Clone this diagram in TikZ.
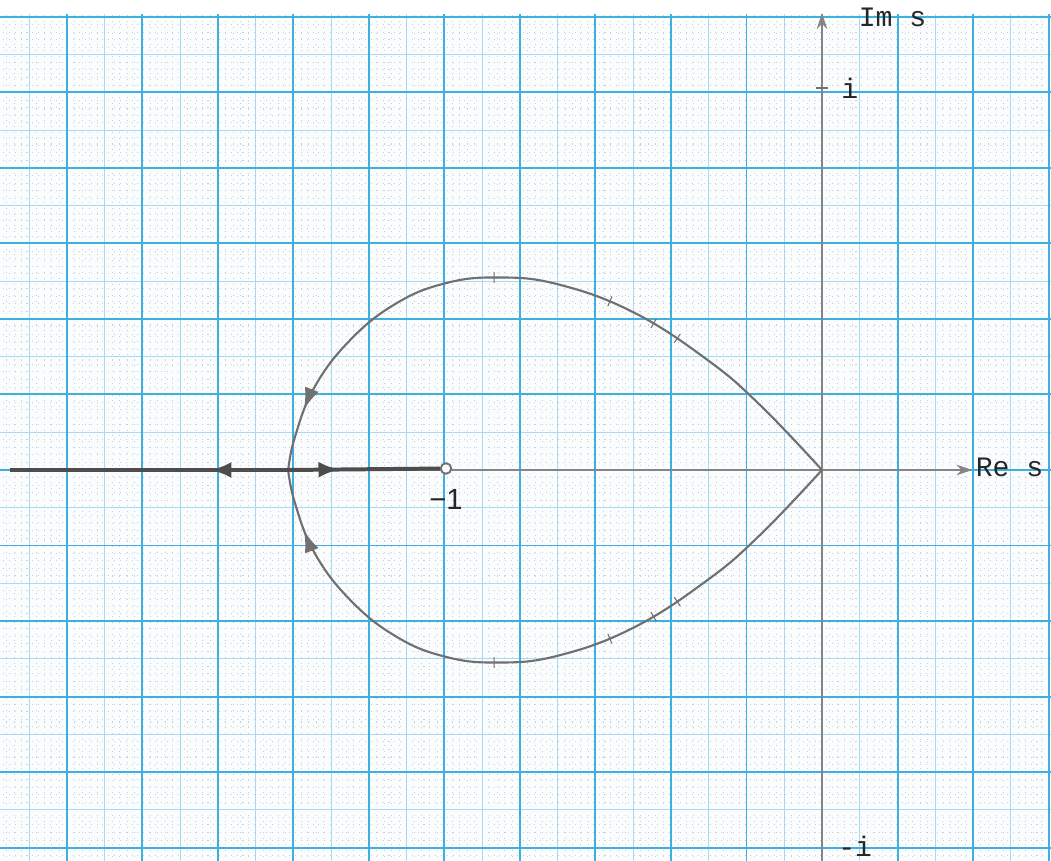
\documentclass[tikz,border=0pt]{standalone}
\usepackage{fontspec}
\newfontfamily\monofont{Liberation Mono}
\newfontfamily\numfont{Liberation Sans}
\usepackage{tikz}
\usetikzlibrary{arrows.meta, positioning, decorations.markings}
\definecolor{paper}{HTML}{FAFCFD}
\definecolor{gridblue}{HTML}{3FAFE2}
\definecolor{halfblue}{HTML}{A8DAF1}
\definecolor{dotgray}{HTML}{C9D0D4}
\definecolor{pencil}{HTML}{707070}
\definecolor{darkpencil}{HTML}{4D4D4D}

\begin{document}
\begin{tikzpicture}[
  axis/.style={draw=pencil!85, line width=0.45pt, -{Stealth[length=6pt, width=4pt]}},
  locus/.style={draw=pencil, line width=0.8pt, postaction={decorate},
    decoration={markings,
      mark=at position 0.28 with {\draw[pencil, line width=0.4pt] (0,-2pt) -- (0,2pt);},
      mark=at position 0.32 with {\draw[pencil, line width=0.4pt] (0,-2pt) -- (0,2pt);},
      mark=at position 0.39 with {\draw[pencil, line width=0.4pt] (0,-2pt) -- (0,2pt);},
      mark=at position 0.56 with {\draw[pencil, line width=0.4pt] (0,-2pt) -- (0,2pt);},
      mark=at position 0.91 with {\arrow[pencil]{Latex[length=8pt, width=5.5pt]}}}},
  branch/.style={draw=darkpencil, line width=1.5pt, postaction={decorate},
    decoration={markings,
      mark=at position #1 with {\arrow[darkpencil]{Latex[length=8pt, width=6pt]}}}},
  zeromark/.style={circle, draw=pencil, line width=0.7pt, fill=paper, minimum size=0.14cm, inner sep=0pt},
  lbl/.style={font=\monofont\fontsize{10.6}{12}\selectfont, text=black!85, inner sep=0pt},
  numlbl/.style={font=\numfont\fontsize{11}{12}\selectfont, text=black!85, inner sep=0pt},
]
\useasboundingbox (-10.887,-5.166) rectangle (3.033,6.225);
\fill[white] (-10.887,-5.166) rectangle (3.033,6.225);

% graph paper
\begin{scope}
  \clip (-10.887,-5.166) rectangle (3.033,6.03);
  \fill[paper] (-10.887,-5.166) rectangle (3.033,6.03);
  \draw[dotgray, line width=0.3pt, dash pattern=on 0.4pt off 1.8pt, step=0.1] (-11,-5.2) grid (3.1,6.1);
  \draw[halfblue, line width=0.4pt, step=0.5] (-11,-5.2) grid (3.1,6.1);
  \draw[gridblue, line width=0.75pt, step=1] (-11,-5.2) grid (3.1,6.1);
\end{scope}

% axes
\coordinate (O) at (0,0);
\coordinate (far) at (-10.76,0);
\coordinate (reend) at (1.99,0);
\coordinate (imbot) at (0,-5.166);
\coordinate (imtop) at (0,6.05);
\coordinate (ione) at (0,5.06);
\coordinate (bk) at (-7.07,0);
\draw[axis] (far) -- (reend);
\draw[axis] (imbot) -- (imtop);
\draw[pencil, line width=0.45pt] ([xshift=-0.08cm]ione) -- ([xshift=0.08cm]ione);

\node[zeromark] (zero) at (-4.98,0.02) {};

% root locus
\foreach \s in {1,-1} {
  \draw[locus, yscale=\s] plot[smooth, tension=0.7] coordinates {(O) (-0.82,0.86) (-1.52,1.46)
    (-2.50,2.09) (-3.5,2.46) (-4.3,2.55) (-5.0,2.47)
    (-5.65,2.2) (-6.25,1.72) (-6.72,1.1) (-6.98,0.44) (bk)};
}
\draw[branch=0.34] (bk) -- (zero);
\draw[branch=0.28] (bk) -- (far);

% labels
\node[lbl, anchor=west] (imlbl) at (0.48,5.99) {Im s};
\node[lbl, anchor=west] (relbl) at (2.03,0.03) {Re s};
\node[lbl, right=0.25cm of ione] (ilbl) {i};
\node[lbl] (milbl) at (0.44,-4.99) {-i};
\node[numlbl, below=0.19cm of zero] (zlbl) {−1};
\end{tikzpicture}
\end{document}
